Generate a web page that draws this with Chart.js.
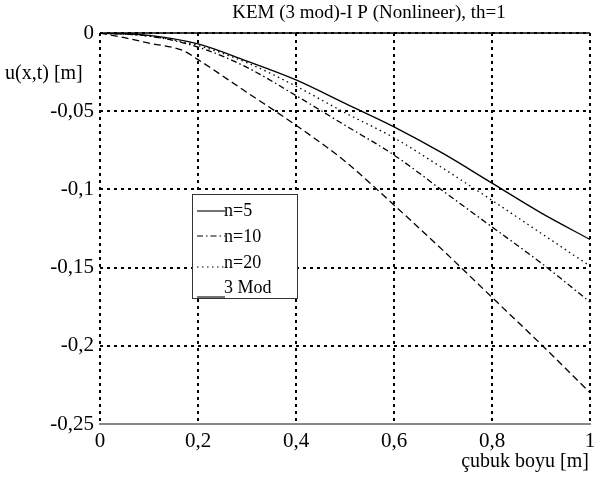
<!DOCTYPE html>
<html>
<head>
<meta charset="utf-8">
<script src="https://cdn.jsdelivr.net/npm/chart.js@4.4.1/dist/chart.umd.min.js"></script>
<style>
  html, body { margin: 0; padding: 0; background: #fff; }
  canvas { display: block; }
</style>
</head>
<body>
<canvas id="myChart" width="603" height="477"></canvas>
<script>
// values
const xs = [0, 0.1, 0.2, 0.3, 0.4, 0.5, 0.6, 0.7, 0.8, 0.9, 1.0];
const n5 = [0, -0.0015, -0.007, -0.018, -0.030, -0.045, -0.060, -0.077, -0.096, -0.115, -0.132];
const n10 = [0, -0.002, -0.009, -0.022, -0.040, -0.059, -0.078, -0.101, -0.124, -0.147, -0.172];
const n20 = [0, -0.002, -0.008, -0.019, -0.034, -0.051, -0.067, -0.0865, -0.107, -0.128, -0.149];
const xsMod = [0, 0.05, 0.1, 0.17, 0.2, 0.3, 0.4, 0.5, 0.6, 0.7, 0.8, 0.9, 1.0];
const mod3 = [0, -0.003, -0.0065, -0.0113, -0.017, -0.038, -0.059, -0.082, -0.110, -0.139, -0.169, -0.199, -0.230];

const xTicks = [0, 0.2, 0.4, 0.6, 0.8, 1];
const xTickLabels = ['0', '0,2', '0,4', '0,6', '0,8', '1'];
const yTicks = [0, -0.05, -0.1, -0.15, -0.2, -0.25];
const yTickLabels = ['0', '-0,05', '-0,1', '-0,15', '-0,2', '-0,25'];

const seriesNames = ['n=5', 'n=10', 'n=20', '3 Mod'];
const titleText = 'KEM (3 mod)-I P (Nonlineer), th=1';
const yTitle = 'u(x,t) [m]';
const xTitle = 'çubuk boyu [m]';

const SERIF = "'Liberation Serif', 'Times New Roman', serif";
const INK = '#000';

function pts(x, y) {
    return x.map((v, i) => ({ x: v, y: y[i] }));
}

function labelFor(ticks, labels, v) {
    const i = ticks.findIndex(t => Math.abs(t - v) < 1e-9);
    return i >= 0 ? labels[i] : '';
}

const dashes = [[], [6, 3, 1.5, 3], [1.5, 3.5], [7, 4]];

// text, frame and the boxed legend
const decorations = {
    id: 'decorations',
    afterDraw(chart) {
        const ctx = chart.ctx;
        const a = chart.chartArea;
        ctx.save();

        // top frame line
        ctx.strokeStyle = INK;
        ctx.lineWidth = 1.5;
        ctx.setLineDash([]);
        ctx.beginPath();
        ctx.moveTo(a.left, a.top);
        ctx.lineTo(a.right, a.top);
        ctx.stroke();

        ctx.fillStyle = '#000';
        ctx.font = '19px ' + SERIF;
        ctx.textBaseline = 'middle';
        ctx.textAlign = 'center';
        ctx.fillText(titleText, 369, 13);

        ctx.font = '20px ' + SERIF;
        ctx.textAlign = 'left';
        ctx.fillText(yTitle, 5, 74);

        ctx.textAlign = 'right';
        ctx.fillText(xTitle, a.right - 1, 462);

        // legend box
        const bx = 192, by = 194, bw = 105, bh = 104;
        ctx.fillStyle = '#fff';
        ctx.fillRect(bx, by, bw, bh);
        ctx.strokeStyle = '#333';
        ctx.lineWidth = 1;
        ctx.strokeRect(bx + 0.5, by + 0.5, bw, bh);

        ctx.font = '18px ' + SERIF;
        ctx.textAlign = 'left';
        ctx.textBaseline = 'alphabetic';
        const rowBase = [216, 242, 268, 293];
        const lineY = [211, 236, 267, 297];
        seriesNames.forEach((name, i) => {
            ctx.strokeStyle = INK;
            ctx.lineWidth = 1.1;
            ctx.setLineDash(i === 3 ? [] : dashes[i]);
            ctx.beginPath();
            ctx.moveTo(bx + 5, lineY[i]);
            ctx.lineTo(bx + 33, lineY[i]);
            ctx.stroke();
            ctx.fillStyle = '#000';
            ctx.fillText(name, bx + 32, rowBase[i]);
        });
        ctx.restore();
    }
};

const ctx = document.getElementById('myChart');
new Chart(ctx, {
    type: 'line',
    data: {
        datasets: [
            { label: seriesNames[0], data: pts(xs, n5), borderDash: dashes[0] },
            { label: seriesNames[1], data: pts(xs, n10), borderDash: dashes[1] },
            { label: seriesNames[2], data: pts(xs, n20), borderDash: dashes[2] },
            { label: seriesNames[3], data: pts(xsMod, mod3), borderDash: dashes[3] }
        ].map(d => Object.assign(d, {
            borderColor: INK,
            borderWidth: 1.3,
            pointRadius: 0,
            fill: false,
            cubicInterpolationMode: 'monotone'
        }))
    },
    options: {
        responsive: false,
        animation: false,
        layout: { padding: { top: 33, right: 13, left: 0, bottom: 0 } },
        plugins: {
            legend: { display: false },
            title: { display: false },
            tooltip: { enabled: false }
        },
        scales: {
            x: {
                type: 'linear',
                min: 0,
                max: 1,
                afterBuildTicks: scale => { scale.ticks = xTicks.map(v => ({ value: v })); },
                afterFit: scale => { scale.height = 53; },
                ticks: {
                    color: '#000',
                    font: { family: SERIF, size: 21 },
                    padding: 5,
                    maxRotation: 0,
                    callback: v => labelFor(xTicks, xTickLabels, v)
                },
                grid: { color: '#000', lineWidth: 2, drawTicks: false },
                border: { display: true, color: '#888', width: 2, dash: [3, 4] }
            },
            y: {
                min: -0.25,
                max: 0,
                afterBuildTicks: scale => { scale.ticks = yTicks.slice().reverse().map(v => ({ value: v })); },
                afterFit: scale => { scale.width = 100; },
                ticks: {
                    color: '#000',
                    font: { family: SERIF, size: 21 },
                    padding: 6,
                    callback: v => labelFor(yTicks, yTickLabels, v)
                },
                grid: { color: '#000', lineWidth: 2, drawTicks: false },
                border: { display: false, dash: [3, 4] }
            }
        }
    },
    plugins: [decorations]
});
</script>
</body>
</html>
